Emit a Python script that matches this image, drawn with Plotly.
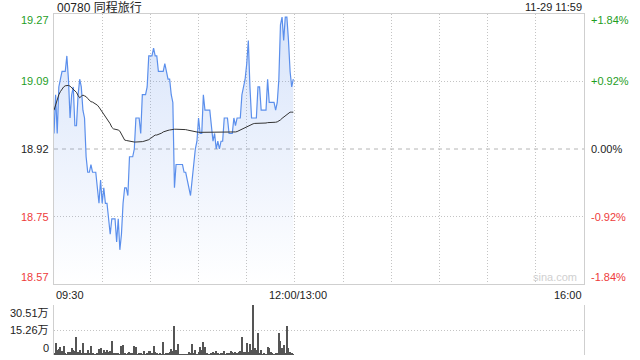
import plotly.graph_objects as go
import numpy as np

# ---------------- data ----------------
stock_title = "00780 同程旅行"
stamp = "11-29 11:59"
prev_close = 18.92
pct_ticks = [1.84, 0.92, 0.0, -0.92, -1.84]
price_tick_labels = ["19.27", "19.09", "18.92", "18.75", "18.57"]
pct_tick_labels = ["+1.84%", "+0.92%", "0.00%", "-0.92%", "-1.84%"]
time_labels = ["09:30", "12:00/13:00", "16:00"]
time_label_pos = [0, 150, 330]          # session minutes
session_minutes = 330
vol_max = 30.51                          # 万
vol_tick_labels = ["30.51万", "15.26万", "0"]

price = [
    18.96, 19.06, 18.96, 19.08, 19.10, 19.12, 19.12, 19.12, 19.16, 19.10,
    19.00, 19.06, 19.08, 18.98, 18.98, 19.06, 19.10, 19.08, 19.02, 19.00,
    18.90, 18.86, 18.86, 18.88, 18.86, 18.86, 18.86, 18.82, 18.78, 18.84,
    18.78, 18.82, 18.78, 18.78, 18.74, 18.70, 18.74, 18.74, 18.74, 18.68,
    18.74, 18.66, 18.70, 18.78, 18.82, 18.82, 18.80, 18.90, 18.90, 18.90,
    18.92, 19.00, 19.00, 19.00, 18.96, 19.06, 19.06, 19.06, 19.08, 19.16,
    19.16, 19.16, 19.18, 19.16, 19.16, 19.12, 19.12, 19.12, 19.12, 19.14,
    19.12, 19.10, 19.10, 19.06, 19.04, 18.82, 18.88, 18.88, 18.88, 18.88,
    18.88, 18.86, 18.86, 18.84, 18.82, 18.80, 18.84, 18.88, 18.92, 18.94,
    19.00, 18.96, 18.96, 19.06, 19.02, 19.02, 19.02, 19.02, 18.98, 18.94,
    18.96, 18.92, 18.94, 18.92, 18.94, 18.94, 19.00, 19.00, 19.00, 18.96,
    18.96, 18.96, 19.00, 18.98, 19.00, 19.00, 19.00, 19.06, 19.08, 19.10,
    19.14, 19.20, 19.08, 19.00, 19.00, 19.00, 19.00, 19.08, 19.08, 19.02,
    19.02, 19.02, 19.02, 19.10, 19.04, 19.04, 19.04, 19.04, 19.02, 19.04,
    19.10, 19.24, 19.26, 19.20, 19.26, 19.26, 19.20, 19.12, 19.08, 19.10,
]

avg_price = [
    19.020, 19.034, 19.045, 19.060, 19.068, 19.076, 19.080, 19.083, 19.084, 19.084,
    19.082, 19.078, 19.075, 19.070, 19.066, 19.058, 19.052, 19.056, 19.059, 19.057,
    19.055, 19.050, 19.045, 19.042, 19.041, 19.039, 19.037, 19.033, 19.028, 19.022,
    19.016, 19.011, 19.006, 19.000, 18.994, 18.985, 18.976, 18.972, 18.971, 18.970,
    18.969, 18.966, 18.958, 18.947, 18.943, 18.942, 18.941, 18.940, 18.939, 18.938,
    18.938, 18.938, 18.938, 18.938, 18.938, 18.939, 18.940, 18.941, 18.942, 18.944,
    18.947, 18.950, 18.954, 18.956, 18.956, 18.957, 18.959, 18.961, 18.964, 18.966,
    18.967, 18.968, 18.969, 18.970, 18.971, 18.971, 18.971, 18.971, 18.971, 18.971,
    18.971, 18.970, 18.970, 18.969, 18.968, 18.967, 18.966, 18.965, 18.964, 18.963,
    18.963, 18.963, 18.963, 18.963, 18.963, 18.963, 18.963, 18.963, 18.963, 18.963,
    18.963, 18.963, 18.963, 18.963, 18.963, 18.963, 18.963, 18.963, 18.963, 18.963,
    18.963, 18.963, 18.963, 18.964, 18.965, 18.967, 18.969, 18.972, 18.974, 18.977,
    18.978, 18.980, 18.983, 18.984, 18.985, 18.986, 18.986, 18.986, 18.986, 18.986,
    18.986, 18.986, 18.987, 18.988, 18.988, 18.989, 18.989, 18.989, 18.989, 18.990,
    18.992, 18.995, 18.999, 19.002, 19.006, 19.010, 19.013, 19.015, 19.015, 19.015,
]

volume = [  # 万股
    1.4, 7.5, 3.1, 3.7, 4.7, 2.6, 5.5, 1.0, 0.6, 2.0,
    1.6, 4.1, 3.1, 2.4, 11.2, 1.6, 3.1, 1.0, 7.1, 1.4,
    1.4, 3.1, 1.0, 5.5, 1.4, 0.6, 0.4, 1.0, 3.5, 4.1,
    1.0, 3.1, 2.0, 3.1, 2.0, 2.6, 8.7, 1.0, 0.8, 1.0,
    0.8, 0.6, 5.3, 6.1, 0.8, 0.4, 1.0, 1.6, 1.0, 1.0,
    5.5, 4.9, 0.6, 1.0, 1.0, 0.6, 2.6, 0.6, 1.4, 2.4,
    2.4, 1.0, 5.5, 2.0, 1.0, 0.6, 1.0, 0.4, 7.9, 0.6,
    1.4, 1.0, 2.0, 3.5, 2.6, 17.7, 3.1, 6.7, 0.6, 0.4,
    0.4, 0.6, 0.4, 0.6, 1.6, 1.0, 6.7, 1.0, 3.1, 0.6,
    2.0, 4.7, 3.1, 7.9, 4.7, 1.0, 0.6, 0.6, 1.4, 1.6,
    1.0, 2.4, 1.0, 0.6, 0.8, 1.4, 2.4, 0.6, 1.0, 1.4,
    2.4, 1.6, 1.0, 2.0, 1.0, 1.6, 2.4, 11.0, 1.6, 2.0,
    7.5, 2.0, 6.7, 3.1, 30.51, 4.1, 3.1, 13.6, 1.0, 3.1,
    0.6, 1.0, 0.4, 4.9, 4.1, 2.0, 1.0, 0.6, 1.4, 1.0,
    13.6, 8.7, 4.1, 6.1, 1.0, 17.7, 4.1, 2.0, 1.0, 0.6,
]

# ---------------- derived scales ----------------
levels = [prev_close * (1 + p / 100) for p in pct_ticks]
y_hi, y_lo = levels[0], levels[-1]
minutes = np.arange(len(price))

GREEN = "#1f9e1f"
RED = "#ee3b3b"
BLACK = "#222222"
label_colors = [GREEN, GREEN, BLACK, RED, RED]
FONT = "Liberation Sans, Arial, Noto Sans CJK SC, sans-serif"

W, H = 640, 360
main_x0, main_x1 = 54, 584
main_top, main_bot = 14, 284
vol_top, vol_bot = 305, 355

fig = go.Figure()

fig.add_trace(go.Scatter(
    x=minutes, y=price, mode="lines",
    line=dict(color="#5b8fec", width=1.2),
    fill="tozeroy",
    fillgradient=dict(type="vertical", start=y_lo, stop=y_hi,
                      colorscale=[[0, "rgba(90,140,235,0.0)"],
                                  [1, "rgba(90,140,235,0.24)"]]),
    xaxis="x", yaxis="y", hoverinfo="skip", showlegend=False,
))
fig.add_trace(go.Scatter(
    x=minutes, y=avg_price, mode="lines",
    line=dict(color="#333333", width=1),
    xaxis="x", yaxis="y", hoverinfo="skip", showlegend=False,
))
fig.add_trace(go.Bar(
    x=minutes, y=volume, width=0.65,
    marker=dict(color="#555555", line=dict(width=0)),
    xaxis="x2", yaxis="y2", hoverinfo="skip", showlegend=False,
))

# previous close reference line
fig.add_shape(type="line", xref="x", yref="y", x0=0, x1=session_minutes,
              y0=prev_close, y1=prev_close,
              line=dict(color="#b4b4b4", width=1, dash="4px,4px"), layer="below")

grid_minutes = list(range(30, session_minutes, 30))
DOT = "1px,2px"

fig.update_layout(
    width=W, height=H,
    margin=dict(l=0, r=0, t=0, b=0),
    paper_bgcolor="white", plot_bgcolor="white",
    font=dict(family=FONT, size=11, color=BLACK),
    showlegend=False,
    bargap=0,
    xaxis=dict(domain=[main_x0 / W, main_x1 / W], range=[0, session_minutes],
               tickvals=grid_minutes, showticklabels=False, ticks="",
               showgrid=True, gridcolor="#c4c4c4", griddash=DOT, gridwidth=1,
               showline=True, mirror=True, linecolor="#cfcfcf", linewidth=1,
               zeroline=False, anchor="y", fixedrange=True),
    yaxis=dict(domain=[1 - main_bot / H, 1 - main_top / H], range=[y_lo, y_hi],
               tickvals=[levels[1], levels[3]], showticklabels=False, ticks="",
               showgrid=True, gridcolor="#c4c4c4", griddash=DOT, gridwidth=1,
               showline=True, mirror=True, linecolor="#cfcfcf", linewidth=1,
               zeroline=False, anchor="x", fixedrange=True),
    xaxis2=dict(domain=[main_x0 / W, main_x1 / W], range=[0, session_minutes],
                showticklabels=False, ticks="", showgrid=False, showline=False,
                zeroline=False, anchor="y2", fixedrange=True),
    yaxis2=dict(domain=[1 - vol_bot / H, 1 - vol_top / H], range=[0, vol_max],
                tickvals=[0, vol_max / 2, vol_max], showticklabels=False, ticks="",
                showgrid=True, gridcolor="#c4c4c4", griddash=DOT, gridwidth=1,
                showline=True, mirror=True, linecolor="#cfcfcf", linewidth=1,
                zeroline=False, anchor="x2", fixedrange=True),
)

ann = []
# header
ann.append(dict(text=stock_title, xref="paper", yref="paper",
                x=55 / W, y=1 - 7 / H, xanchor="left", yanchor="middle",
                showarrow=False, font=dict(size=12, color=BLACK, family=FONT)))
ann.append(dict(text=stamp, xref="paper", yref="paper",
                x=main_x1 / W, y=1 - 7 / H, xanchor="right", yanchor="middle",
                showarrow=False, font=dict(size=11, color=BLACK, family=FONT)))

# price / percent labels
shifts = [-6, 0, 0, 0, 7]
for lv, pl, ql, col, sh in zip(levels, price_tick_labels, pct_tick_labels,
                                label_colors, shifts):
    ann.append(dict(text=pl, xref="paper", yref="y", x=51 / W, y=lv,
                    xanchor="right", yanchor="middle", yshift=sh, showarrow=False,
                    font=dict(size=11, color=col, family=FONT)))
    ann.append(dict(text=ql, xref="paper", yref="y", x=589 / W, y=lv,
                    xanchor="left", yanchor="middle", yshift=sh, showarrow=False,
                    font=dict(size=11, color=col, family=FONT)))

# time labels
anchors = ["left", "center", "right"]
for tl, tp, a in zip(time_labels, time_label_pos, anchors):
    ann.append(dict(text=tl, xref="x", yref="paper", x=tp, y=1 - 295 / H,
                    xanchor=a, yanchor="middle", showarrow=False,
                    xshift=(3 if a == "center" else 0),
                    font=dict(size=11, color=BLACK, family=FONT)))

# volume labels
vol_vals = [vol_max, vol_max / 2, 0]
vshifts = [-8, 0, 7]
for vv, vl, sh in zip(vol_vals, vol_tick_labels, vshifts):
    ann.append(dict(text=vl, xref="paper", yref="y2", x=51 / W, y=vv,
                    xanchor="right", yanchor="middle", yshift=sh, showarrow=False,
                    font=dict(size=11, color=BLACK, family=FONT)))

# watermark
ann.append(dict(text="sina.com", xref="paper", yref="paper",
                x=555 / W, y=1 - 277 / H, xanchor="center", yanchor="middle",
                showarrow=False, font=dict(size=11, color="#d0d0d0", family=FONT)))

fig.update_layout(annotations=ann)
fig.write_html("out.html", config={"displayModeBar": False})
